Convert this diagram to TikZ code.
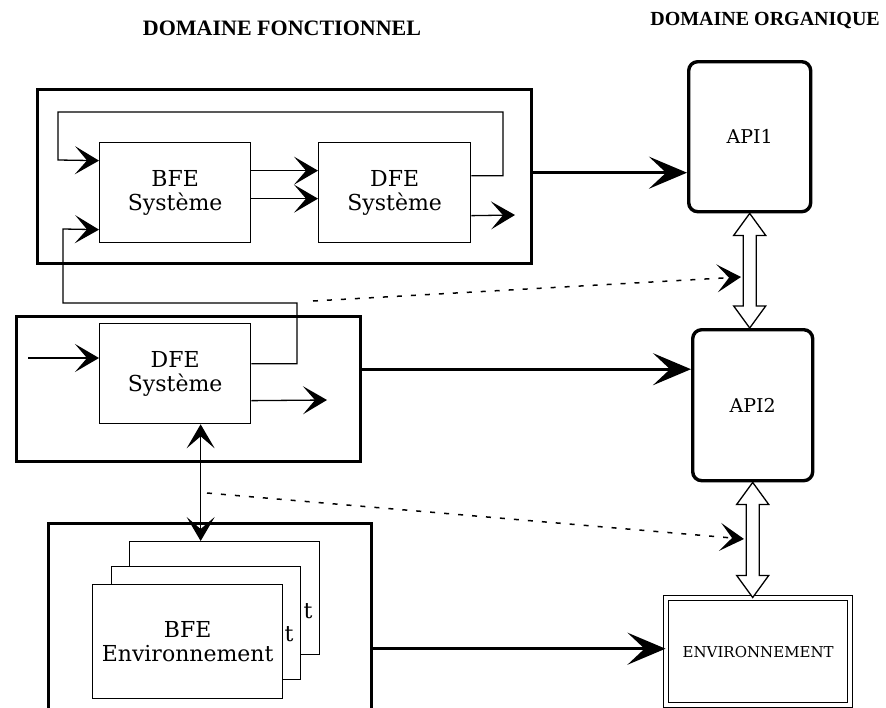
\documentclass[tikz,border=0pt]{standalone}
\usepackage{fontspec}
\setmainfont{DejaVu Serif}
\newfontfamily\hdrfont{Liberation Serif}
\usetikzlibrary{arrows.meta,calc}
\newcommand\hollowarr[2]{%
 \path[draw,thinln,fill=white,line join=miter] let \p1=(#1), \p2=(#2) in
   (\x1,\y1) -- (\x1+16pt,\y1-22pt) -- (\x1+6.5pt,\y1-22pt) -- (\x1+6.5pt,\y2+22pt)
   -- (\x1+16pt,\y2+22pt) -- (\x1,\y2) -- (\x1-16pt,\y2+22pt) -- (\x1-6.5pt,\y2+22pt)
   -- (\x1-6.5pt,\y1-22pt) -- (\x1-16pt,\y1-22pt) -- cycle;}
\begin{document}
\begin{tikzpicture}[x=1pt,y=-1pt,
  thinln/.style={line width=1.3pt},
  thickln/.style={line width=3.4pt},
  tarrow/.style={thinln,-{Stealth[length=24pt,width=28pt,inset=12pt]}},
  tdbl/.style={thinln,{Stealth[length=24pt,width=28pt,inset=12pt]}-{Stealth[length=24pt,width=28pt,inset=12pt]}},
  barrow/.style={thickln,-{Stealth[length=38pt,width=32pt,inset=17pt]}},
  darrow/.style={line width=1.5pt,dash pattern=on 5pt off 9pt,-{Stealth[length=24pt,width=28pt,inset=12pt]}},
  outerbox/.style={draw,line width=3.4pt,anchor=north west,inner sep=0pt},
  blk/.style={draw,thinln,fill=white,anchor=north west,inner sep=0pt,align=center,font=\fontsize{22}{24}\selectfont},
  api/.style={draw,line width=3.4pt,rounded corners=9pt,anchor=north west,inner sep=0pt,font=\fontsize{19}{21}\selectfont},
  hdr/.style={font=\hdrfont\bfseries\fontsize{22}{24}\selectfont,inner sep=0pt},
  tlab/.style={font=\fontsize{22}{24}\selectfont,inner sep=0pt}
]
\useasboundingbox (0,0) rectangle (886,707);
\clip (0,0) rectangle (886,707);

% headers
\node[hdr] (h1) at (282,28) {DOMAINE FONCTIONNEL};
\node[hdr,anchor=east,font=\hdrfont\bfseries\fontsize{20}{22}\selectfont] (h2) at (880,20) {DOMAINE ORGANIQUE};

% outer boxes
\node[outerbox,minimum width=494pt,minimum height=174pt] (topbox) at (36,88) {};
\node[outerbox,minimum width=344pt,minimum height=145pt] (midbox) at (15,315) {};
\node[outerbox,minimum width=323pt,minimum height=200pt] (botbox) at (47,522) {};

% inner blocks
\node[blk,minimum width=151pt,minimum height=100pt] (bfe1) at (99,142) {BFE\\Système};
\node[blk,minimum width=152pt,minimum height=100pt] (dfe1) at (318,142) {DFE\\Système};
\node[blk,minimum width=151pt,minimum height=100pt] (dfe2) at (99,323) {DFE\\Système};

\node[blk,minimum width=190pt,minimum height=113pt] (back) at (129,541) {};
\node[blk,minimum width=189pt,minimum height=113pt] (mid) at (111,566) {};
\node[blk,minimum width=190pt,minimum height=114pt] (front) at (92,584) {BFE\\Environnement};
\node[tlab] (t1) at (308,611) {t};
\node[tlab] (t2) at (289,634) {t};

% organic domain
\node[api,minimum width=122pt,minimum height=150pt] (api1) at (687,60) {API1};
\node[api,minimum width=120pt,minimum height=151pt] (api2) at (691,328) {API2};
\node[draw,thinln,double,double distance=3.8pt,anchor=north west,inner sep=0pt,
      minimum width=184pt,minimum height=107pt,font=\fontsize{15}{17}\selectfont] (env) at (665.5,597.5) {ENVIRONNEMENT};

% free-end coordinates
\coordinate (o1) at (515,215);
\coordinate (i2) at (28,358);
\coordinate (o2) at (327,400);
\coordinate (d1s) at (313,301);
\coordinate (d1e) at (741,277);
\coordinate (d2s) at (207,493);
\coordinate (d2e) at (744,539);

% top box internal connectors
\draw[tarrow] ([yshift=17pt]dfe1.east) -| (503,112) -| (58,160) -- ([yshift=32pt]bfe1.west);
\draw[tarrow] ([yshift=22pt]bfe1.east) -- ([yshift=22pt]dfe1.west);
\draw[tarrow] ([yshift=-6pt]bfe1.east) -- ([yshift=-6pt]dfe1.west);
\draw[tarrow] ([yshift=-23pt]dfe1.east) -- (o1);

% DFE2 feedback into BFE1
\draw[tarrow] ([yshift=10pt]dfe2.east) -| (297,303) -| (63,229) -- ([yshift=-37pt]bfe1.west);
\draw[tarrow] (i2) -- (i2 -| dfe2.west);
\draw[tarrow] ([yshift=-27pt]dfe2.east) -- (o2);

% vertical two-way arrow
\draw[tdbl] ([xshift=25.5pt]dfe2.south) -- ([xshift=25.5pt]dfe2.south |- back.north);

% thick arrows to organic domain
\draw[barrow] ([yshift=4pt]topbox.east) -- ([yshift=4pt]topbox.east -| api1.west);
\draw[barrow] ([yshift=20pt]midbox.east) -- ([yshift=20pt]midbox.east -| api2.west);
\draw[barrow] ([yshift=-25pt]botbox.east) -- ([yshift=-25pt]botbox.east -| env.west);

% hollow double arrows
\hollowarr{api1.south}{api2.north}
\hollowarr{api2.south}{env.north}

% dotted arrows
\draw[darrow] (d1s) -- (d1e);
\draw[darrow] (d2s) -- (d2e);
\end{tikzpicture}
\end{document}
